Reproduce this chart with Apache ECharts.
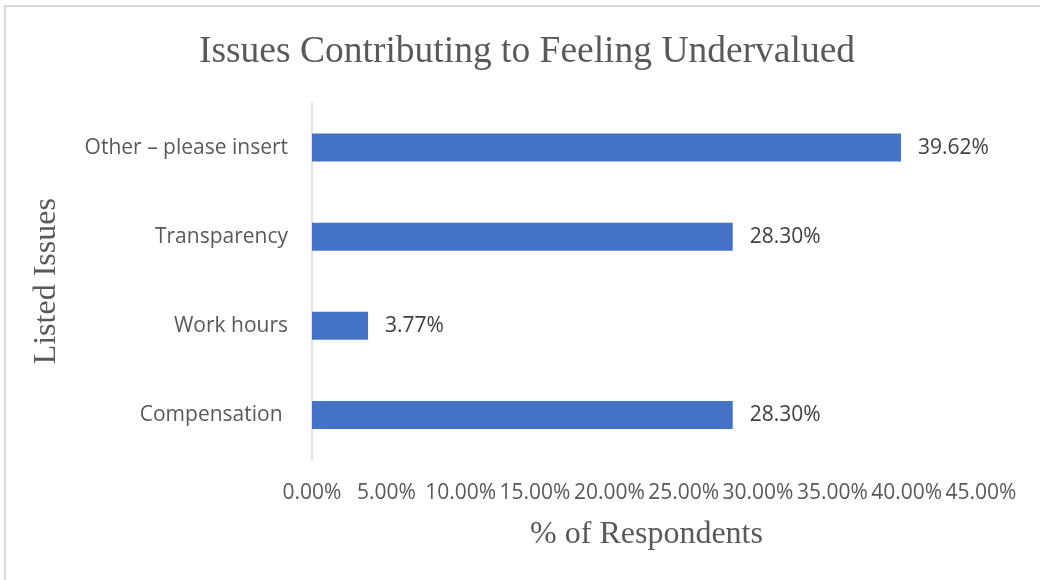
<!DOCTYPE html>
<html>
<head>
<meta charset="utf-8">
<style>
  html, body { margin: 0; padding: 0; background: #ffffff; }
  #chart { width: 1040px; height: 580px; }
</style>
<script src="https://cdn.jsdelivr.net/npm/echarts@6/dist/echarts.min.js"></script>
</head>
<body>
<div id="chart"></div>
<script>
// Survey results: issues respondents say make them feel undervalued
const categories = ['Compensation ', 'Work hours', 'Transparency', 'Other – please insert'];
const percentages = [28.30, 3.77, 28.30, 39.62];
const xTicks = { min: 0, max: 45, interval: 5 };

const labelFont = '"Open Sans", "Liberation Sans", sans-serif';
const serifFont = '"Liberation Serif", "DejaVu Serif", serif';

const chart = echarts.init(document.getElementById('chart'), null, { renderer: 'canvas' });

chart.setOption({
  animation: false,
  backgroundColor: '#ffffff',
  title: {
    text: 'Issues Contributing to Feeling Undervalued',
    left: 522,
    top: 28,
    textAlign: 'center',
    textStyle: { fontFamily: serifFont, fontSize: 37.5, fontWeight: 'normal', color: '#595959' }
  },
  graphic: [{
    type: 'rect',
    shape: { x: 5, y: 6, width: 1040, height: 580 },
    style: { fill: 'none', stroke: '#d9d9d9', lineWidth: 2 },
    silent: true
  }],
  grid: { left: 312, right: 59, top: 103, bottom: 120.5 },
  xAxis: {
    type: 'value',
    min: xTicks.min,
    max: xTicks.max,
    interval: xTicks.interval,
    name: '% of Respondents',
    nameLocation: 'middle',
    nameGap: 59,
    nameTextStyle: { fontFamily: serifFont, fontSize: 32, color: '#595959' },
    axisLine: { show: false },
    axisTick: { show: false },
    splitLine: { show: false },
    axisLabel: {
      margin: 23,
      fontFamily: labelFont,
      fontSize: 21,
      color: '#595959',
      formatter: v => v.toFixed(2) + '%'
    }
  },
  yAxis: {
    type: 'category',
    data: categories,
    name: 'Listed Issues',
    nameLocation: 'middle',
    nameRotate: 90,
    nameGap: 249,
    nameTextStyle: { fontFamily: serifFont, fontSize: 32, color: '#595959' },
    axisLine: { show: true, lineStyle: { color: '#d9d9d9', width: 1.5 } },
    axisTick: { show: false },
    axisLabel: {
      margin: 24,
      fontFamily: labelFont,
      fontSize: 21,
      color: '#595959'
    }
  },
  series: [{
    type: 'bar',
    data: percentages,
    barWidth: 28,
    itemStyle: { color: '#4472C4' },
    label: {
      show: true,
      position: 'right',
      distance: 17,
      fontFamily: labelFont,
      fontSize: 21,
      color: '#404040',
      formatter: p => p.value.toFixed(2) + '%'
    }
  }]
});
</script>
</body>
</html>
